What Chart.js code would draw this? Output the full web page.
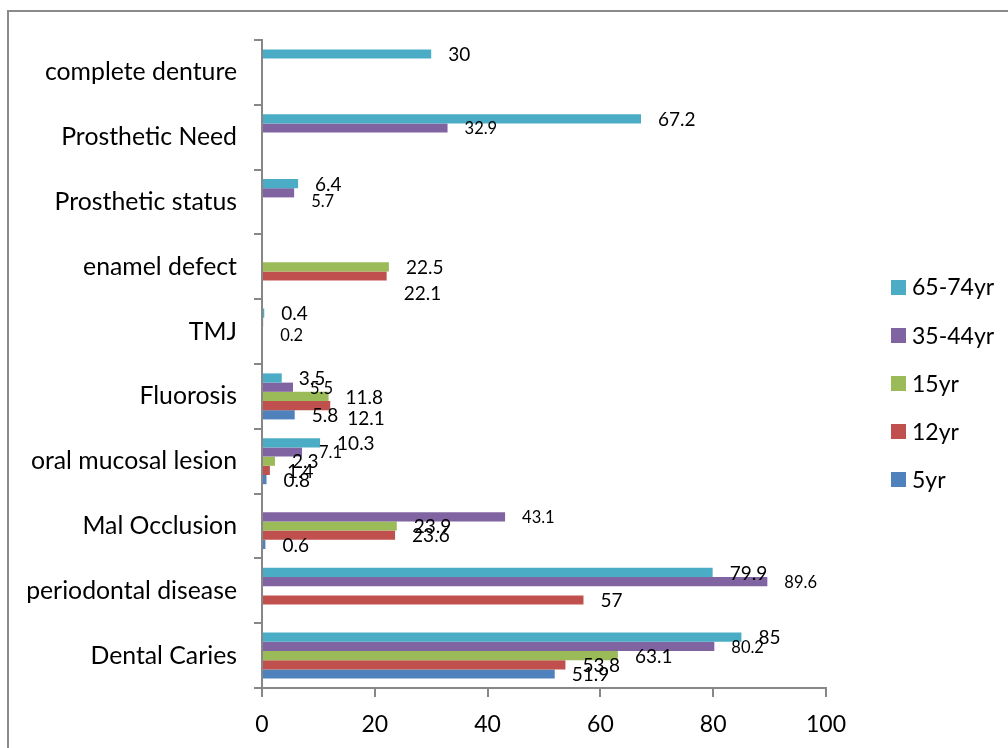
<!DOCTYPE html>
<html>
<head>
<meta charset="utf-8">
<script src="https://cdn.jsdelivr.net/npm/chart.js@4.4.1/dist/chart.umd.min.js"></script>
<style>
  html, body { margin: 0; padding: 0; background: #fff; }
  #wrap { position: relative; width: 1008px; height: 748px; }
  canvas { display: block; }
</style>
</head>
<body>
<div id="wrap"><canvas id="c" width="1008" height="748"></canvas></div>
<script>
// ---- data ----
const categories = ['Dental Caries', 'periodontal disease', 'Mal Occlusion', 'oral mucosal lesion', 'Fluorosis', 'TMJ', 'enamel defect', 'Prosthetic status', 'Prosthetic Need', 'complete denture'];
const seriesNames = ['5yr', '12yr', '15yr', '35-44yr', '65-74yr'];
const values5yr   = [51.9, null, 0.6, 0.8, 5.8, null, null, null, null, null];
const values12yr  = [53.8, 57, 23.6, 1.4, 12.1, null, 22.1, null, null, null];
const values15yr  = [63.1, null, 23.9, 2.3, 11.8, null, 22.5, null, null, null];
const values3544  = [80.2, 89.6, 43.1, 7.1, 5.5, 0.2, null, 5.7, 32.9, null];
const values6574  = [85, 79.9, null, 10.3, 3.5, 0.4, null, 6.4, 67.2, 30];
const xTicks = [0, 20, 40, 60, 80, 100];

// ---- styling (kept apart from data) ----
const seriesColors = { '5yr': '#4F81BD', '12yr': '#C0504D', '15yr': '#9BBB59', '35-44yr': '#8064A2', '65-74yr': '#4BACC6' };
const seriesLabelSize = { '5yr': 19, '12yr': 19, '15yr': 19, '35-44yr': 16.5, '65-74yr': 19 };
// manual vertical nudges of a few data labels (series -> category index -> px)
const labelNudge = { '12yr': { 4: 12, 6: 17 }, '35-44yr': { 5: 12, 7: 8 } };
const FONT = 'Lato, "Open Sans", sans-serif';
const AXIS_GRAY = '#878787';

const seriesValues = [values5yr, values12yr, values15yr, values3544, values6574];

// top-to-bottom order inside each group: 65-74yr first
const datasets = seriesNames.map((name, i) => ({
  label: name,
  data: seriesValues[i],
  backgroundColor: seriesColors[name],
  borderWidth: 0,
  categoryPercentage: 0.71,
  barPercentage: 1.0
})).reverse();

const framePlugin = {
  id: 'frame',
  beforeDraw(chart) {
    const ctx = chart.ctx;
    ctx.save();
    ctx.fillStyle = '#fff';
    ctx.fillRect(0, 0, chart.width, chart.height);
    ctx.strokeStyle = '#8a8a8a';
    ctx.lineWidth = 2;
    ctx.beginPath();
    ctx.moveTo(1008, 11);
    ctx.lineTo(8, 11);
    ctx.lineTo(8, 748);
    ctx.stroke();
    ctx.restore();
  }
};

const labelPlugin = {
  id: 'barLabels',
  afterDatasetsDraw(chart) {
    const ctx = chart.ctx;
    ctx.save();
    ctx.fillStyle = '#000';
    ctx.textAlign = 'left';
    ctx.textBaseline = 'middle';
    chart.data.datasets.forEach((ds, di) => {
      const meta = chart.getDatasetMeta(di);
      ctx.font = seriesLabelSize[ds.label] + 'px ' + FONT;
      meta.data.forEach((el, ci) => {
        const v = ds.data[ci];
        if (v === null || v === undefined) return;
        const dy = (labelNudge[ds.label] && labelNudge[ds.label][ci]) || 0;
        ctx.fillText(String(v), el.x + 17, el.y + 1 + dy);
      });
    });
    ctx.restore();
  }
};

const legendPlugin = {
  id: 'sideLegend',
  afterDraw(chart) {
    const ctx = chart.ctx;
    ctx.save();
    ctx.font = '23px ' + FONT;
    ctx.textBaseline = 'middle';
    ctx.textAlign = 'left';
    chart.data.datasets.forEach((ds, k) => {
      const yc = 287 + k * 48.2;
      ctx.fillStyle = ds.backgroundColor;
      ctx.fillRect(891, Math.round(yc - 7.5), 15, 15);
      ctx.fillStyle = '#000';
      ctx.fillText(ds.label, 912, yc + 1);
    });
    ctx.restore();
  }
};

new Chart(document.getElementById('c'), {
  type: 'bar',
  data: { labels: categories, datasets },
  options: {
    indexAxis: 'y',
    responsive: false,
    animation: false,
    devicePixelRatio: 1,
    layout: { padding: { top: 40, right: 182, left: 0, bottom: 0 } },
    plugins: {
      legend: { display: false },
      tooltip: { enabled: false }
    },
    scales: {
      x: {
        type: 'linear',
        min: 0,
        max: 100,
        afterBuildTicks(scale) { scale.ticks = xTicks.map(v => ({ value: v })); },
        afterFit(scale) { scale.height = 748 - 688; },
        grid: { drawOnChartArea: false, drawTicks: true, tickLength: 9, color: AXIS_GRAY, lineWidth: 2 },
        border: { display: true, color: AXIS_GRAY, width: 2 },
        ticks: { font: { family: FONT, size: 23 }, color: '#000', padding: 14 }
      },
      y: {
        type: 'category',
        reverse: true,
        offset: true,
        afterFit(scale) { scale.width = 262; },
        grid: { drawOnChartArea: false, drawTicks: true, tickLength: 8, color: AXIS_GRAY, lineWidth: 2, offset: true },
        border: { display: true, color: AXIS_GRAY, width: 2 },
        ticks: { font: { family: FONT, size: 24.8 }, color: '#000', padding: 17, autoSkip: false }
      }
    }
  },
  plugins: [framePlugin, labelPlugin, legendPlugin]
});
</script>
</body>
</html>
